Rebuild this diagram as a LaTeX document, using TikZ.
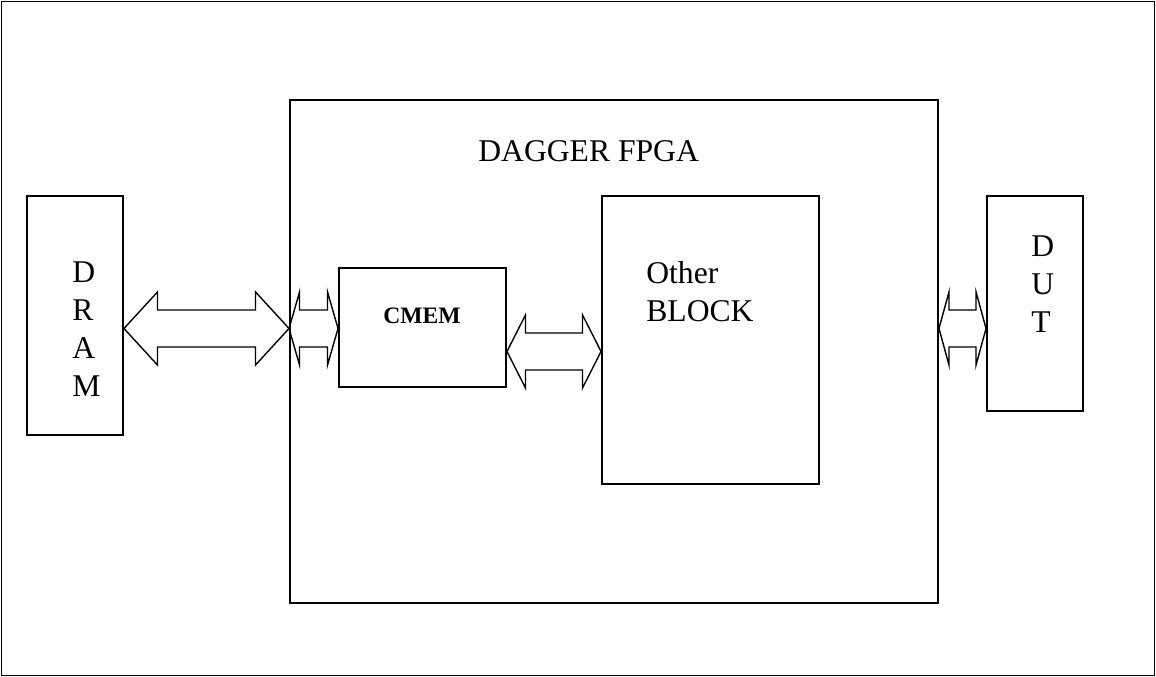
\documentclass[tikz,border=0pt]{standalone}
\usepackage{fontspec}
\setmainfont{Liberation Serif}
\usetikzlibrary{calc}
\tikzset{
  blk/.style={draw, line width=1.1pt, inner sep=0pt},
  fat/.style={draw, line width=0.8pt, line join=miter},
  lbl/.style={font=\fontsize{18}{21.6}\selectfont, inner sep=0pt, anchor=base west},
}
% #1 left tip, #2 right tip, #3 half shaft, #4 half head, #5 head length
\newcommand\fatarrow[5]{%
  \draw[fat] (#1) -- ++(#5,#4) -- ++(0,#3-#4) -- ($(#2)+(-#5,#3)$)
    -- ++(0,#4-#3) -- (#2) -- ++(-#5,-#4) -- ++(0,#4-#3)
    -- ($(#1)+(#5,-#3)$) -- ++(0,#3-#4) -- cycle;}

\begin{document}
\begin{tikzpicture}
  \useasboundingbox (0,0) rectangle (23.12,13.54);
  % outer frame
  \draw[line width=1pt] (0.03,0.03) rectangle (23.09,13.51);

  % blocks
  \node[blk, minimum width=1.92cm, minimum height=4.78cm] (dram) at (1.5,7.23) {};
  \node[blk, minimum width=12.96cm, minimum height=10.06cm] (fpga) at (12.28,6.51) {};
  \node[blk, minimum width=3.34cm, minimum height=2.38cm] (cmem) at (8.45,6.99) {};
  \node[blk, minimum width=4.34cm, minimum height=5.76cm] (other) at (14.21,6.74) {};
  \node[blk, minimum width=1.92cm, minimum height=4.3cm] (dut) at (20.7,7.47) {};

  % labels
  \node[lbl] (fpgatxt) at (9.56,10.30) {DAGGER FPGA};
  \node[lbl, font=\fontsize{13.4}{16}\selectfont\bfseries] (cmemtxt) at (7.66,7.06) {CMEM};
  \node[lbl] (othertxt) at (12.92,7.86) {Other};
  \node[lbl] (blocktxt) at (12.92,7.10) {BLOCK};
  \foreach \c [count=\i] in {D,R,A,M}
    \node[lbl] (dram\i) at (1.44,{7.88-0.76*(\i-1)}) {\c};
  \foreach \c [count=\i] in {D,U,T}
    \node[lbl] (dut\i) at (20.62,{8.40-0.76*(\i-1)}) {\c};

  % buses
  \coordinate (busA) at (0,6.97);
  \coordinate (busB) at (0,6.51);
  \fatarrow{dram.east |- busA}{fpga.west |- busA}{0.37}{0.73}{0.67}
  \fatarrow{fpga.west |- busA}{cmem.west |- busA}{0.37}{0.73}{0.21}
  \fatarrow{cmem.east |- busB}{other.west |- busB}{0.37}{0.73}{0.37}
  \fatarrow{fpga.east |- busA}{dut.west |- busA}{0.37}{0.73}{0.2}
\end{tikzpicture}
\end{document}
